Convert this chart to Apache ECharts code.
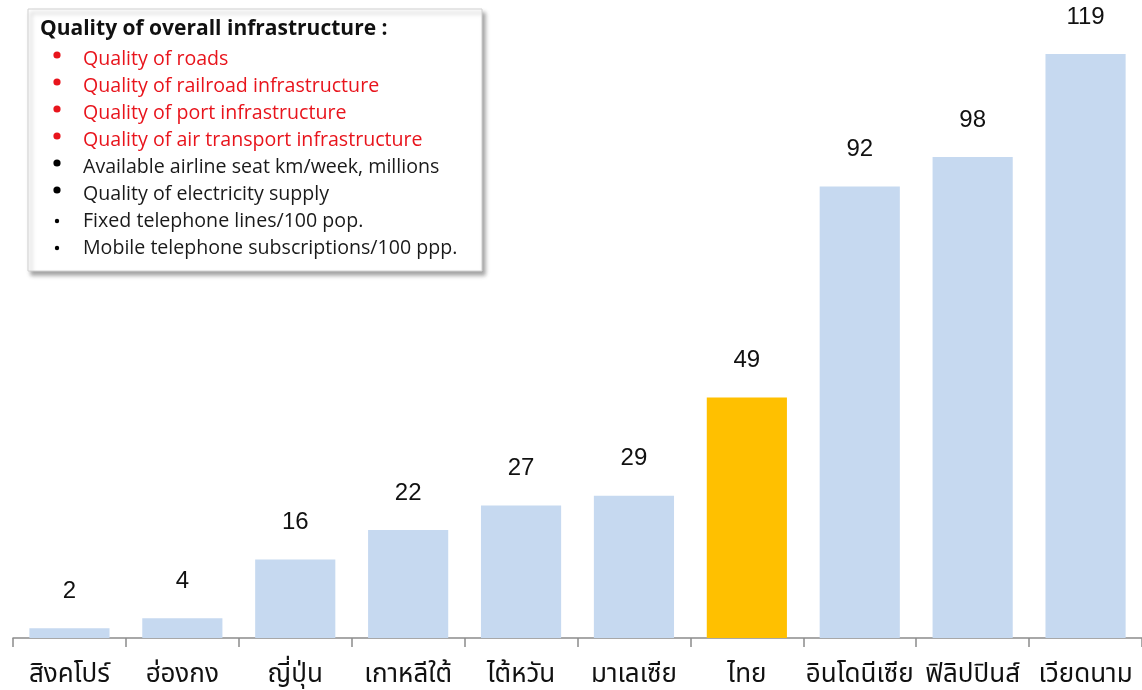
<!DOCTYPE html>
<html>
<head>
<meta charset="utf-8">
<script src="https://cdn.jsdelivr.net/npm/echarts@6/dist/echarts.min.js"></script>
<style>
  html, body { margin: 0; padding: 0; background: #ffffff; }
  #chart { width: 1142px; height: 690px; }
</style>
</head>
<body>
<div id="chart"></div>
<script>
// Countries, ranked by quality of overall infrastructure
const countries = ['สิงคโปร์', 'ฮ่องกง', 'ญี่ปุ่น', 'เกาหลีใต้', 'ไต้หวัน', 'มาเลเซีย', 'ไทย', 'อินโดนีเซีย', 'ฟิลิปปินส์', 'เวียดนาม'];
const ranks = [2, 4, 16, 22, 27, 29, 49, 92, 98, 119];
const highlightCountry = 'ไทย';

// Notes box content
const boxTitle = 'Quality of overall infrastructure :';
const redItems = [
  'Quality of roads',
  'Quality of railroad infrastructure',
  'Quality of port infrastructure',
  'Quality of air transport infrastructure'
];
const blackItems = [
  'Available airline seat km/week, millions',
  'Quality of electricity supply'
];
const smallItems = [
  'Fixed telephone lines/100 pop.',
  'Mobile telephone subscriptions/100 ppp.'
];

const chart = echarts.init(document.getElementById('chart'));

const barData = ranks.map((v, i) => ({
  value: v,
  itemStyle: { color: countries[i] === highlightCountry ? '#ffc000' : '#c6d9f0' }
}));

// Build the notes box as graphic elements
const boxX = 28, boxY = 9, boxW = 454, boxH = 262;
const graphics = [
  {
    type: 'rect',
    shape: { x: boxX, y: boxY, width: boxW, height: boxH },
    style: {
      fill: '#ffffff', stroke: '#d0d0d0', lineWidth: 1,
      shadowBlur: 4, shadowOffsetX: 3, shadowOffsetY: 4, shadowColor: 'rgba(0,0,0,0.35)'
    },
    z: 10
  },
  {
    type: 'text',
    x: 40, y: 29,
    style: {
      text: boxTitle, fill: '#111111',
      font: 'bold 21px "Open Sans", "Liberation Sans", sans-serif',
      textVerticalAlign: 'middle'
    },
    z: 11
  }
];
const items = []
  .concat(redItems.map(t => ({ t, color: '#e8141c', dot: 3.6 })))
  .concat(blackItems.map(t => ({ t, color: '#1a1a1a', dot: 3.6 })))
  .concat(smallItems.map(t => ({ t, color: '#1a1a1a', dot: 2.2 })));
items.forEach((it, i) => {
  const y = 59 + i * 27;
  graphics.push({
    type: 'circle',
    shape: { cx: 57, cy: y - 4 + (it.dot < 3 ? 4 : 0), r: it.dot },
    style: { fill: it.color === '#e8141c' ? '#e8141c' : '#000000' },
    z: 11
  });
  graphics.push({
    type: 'text',
    x: 83, y: y,
    style: {
      text: it.t, fill: it.color,
      font: '19.6px "Open Sans", "Liberation Sans", sans-serif',
      textVerticalAlign: 'middle'
    },
    z: 11
  });
});

chart.setOption({
  animation: false,
  backgroundColor: '#ffffff',
  grid: { left: 13, right: -1, top: 0, bottom: 52, containLabel: false },
  xAxis: {
    type: 'category',
    data: countries,
    axisLine: { lineStyle: { color: '#8c8c8c', width: 1.5 } },
    axisTick: { show: true, length: 9, lineStyle: { color: '#8c8c8c', width: 1.5 } },
    axisLabel: {
      color: '#111111', fontSize: 26, margin: 26, interval: 0,
      fontFamily: '"Noto Sans Thai", "Liberation Sans", "DejaVu Sans", sans-serif'
    }
  },
  yAxis: {
    type: 'value', min: 0, max: 130,
    show: false,
    splitLine: { show: false }
  },
  series: [{
    type: 'bar',
    data: barData,
    barCategoryGap: '29%',
    label: {
      show: true, position: 'top', distance: 25,
      color: '#111111', fontSize: 24,
      fontFamily: '"Liberation Sans", Arial, sans-serif'
    }
  }],
  graphic: graphics
});
</script>
</body>
</html>
